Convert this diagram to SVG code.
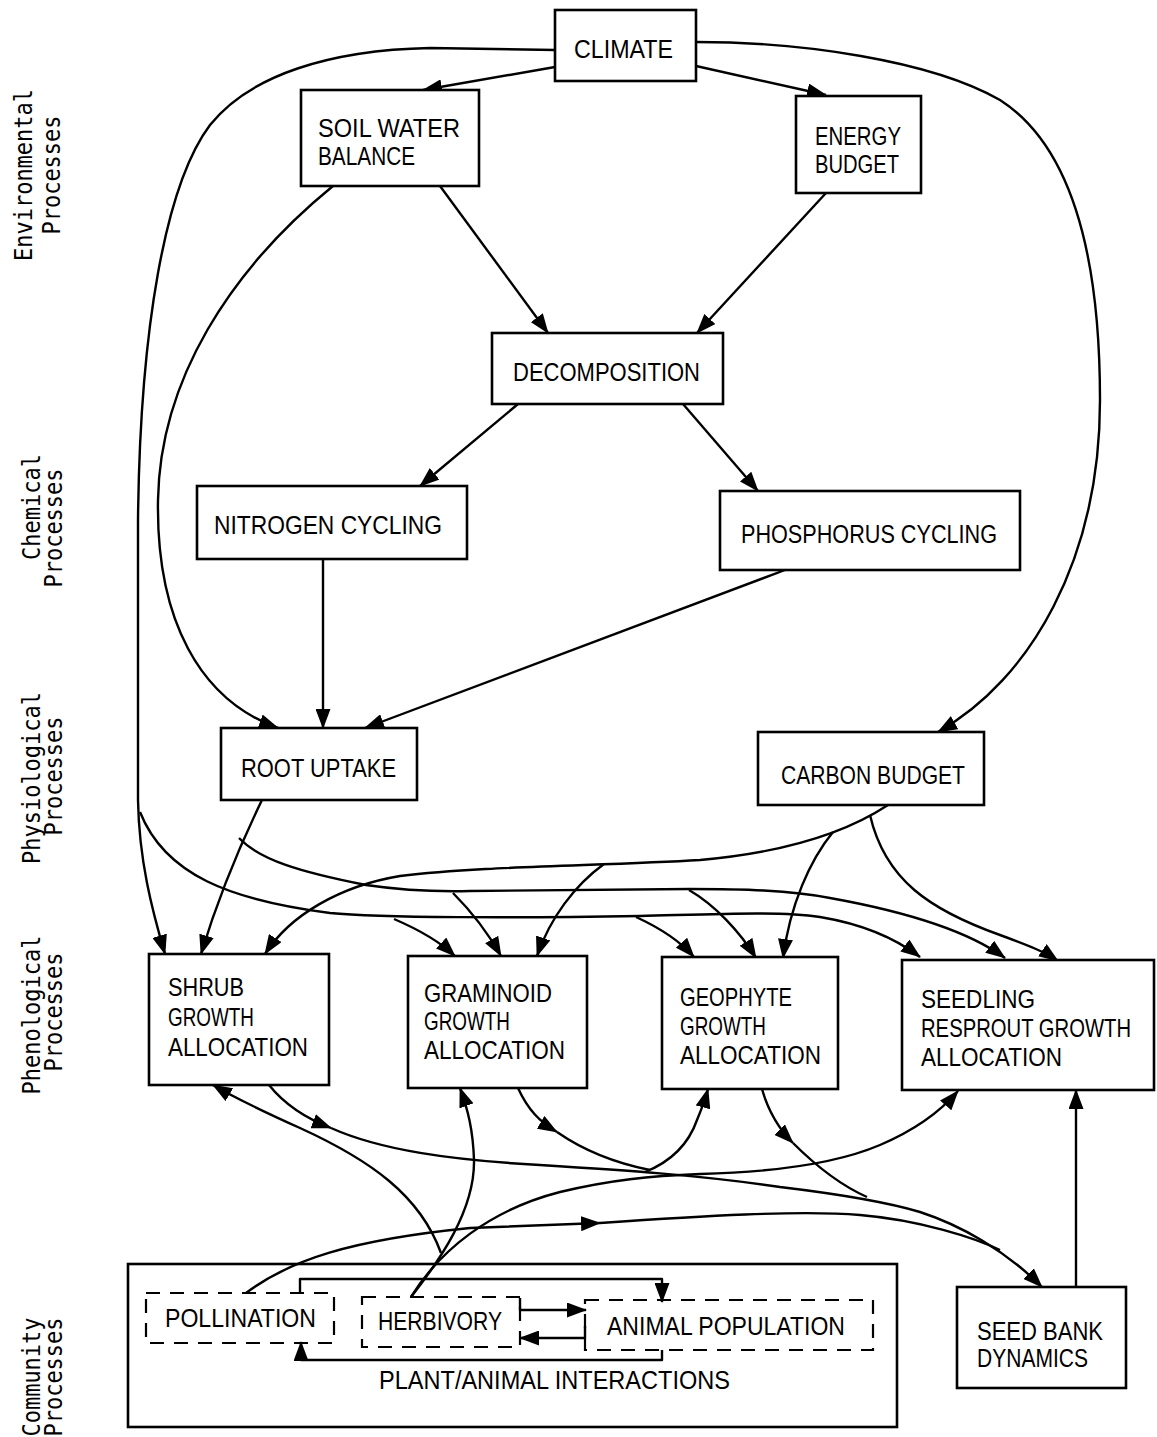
<svg xmlns="http://www.w3.org/2000/svg" width="1157" height="1437" viewBox="0 0 1157 1437">
  <style>
    .box { fill: #fff; stroke: #000; stroke-width: 2.6; }
    .frame { fill: none; stroke: #000; stroke-width: 2.6; }
    .dbox { fill: none; stroke: #000; stroke-width: 2.2; stroke-dasharray: 14 10; }
    .lbl { font-family: "Liberation Sans", Arial, sans-serif; font-size: 25px; fill: #000; }
    .side { font-family: "DejaVu Sans Mono", "Liberation Mono", monospace; font-size: 22px; fill: #000; }
    .ln { fill: none; stroke: #000; stroke-width: 2.4; stroke-linejoin: round; }
    .arr { marker-end: url(#ah); }
  </style>
  <defs>
    <marker id="ah" viewBox="0 0 20 15" refX="19" refY="7.5" markerWidth="20" markerHeight="15" markerUnits="userSpaceOnUse" orient="auto">
      <path d="M0,0 L20,7.5 L0,15 z" fill="#000"/>
    </marker>
  </defs>

  <rect width="1157" height="1437" fill="#fff"/>

  <!-- process level captions down the left margin -->
  <g id="levels">
    <text class="side" text-anchor="middle" transform="translate(32,175) rotate(-90) scale(1,1.15)">Environmental</text>
    <text class="side" text-anchor="middle" transform="translate(60,175) rotate(-90) scale(1,1.15)">Processes</text>
    <text class="side" text-anchor="middle" transform="translate(40,507) rotate(-90) scale(1,1.15)">Chemical</text>
    <text class="side" text-anchor="middle" transform="translate(62,528) rotate(-90) scale(1,1.15)">Processes</text>
    <text class="side" text-anchor="middle" transform="translate(40,778) rotate(-90) scale(1,1.15)">Physiological</text>
    <text class="side" text-anchor="middle" transform="translate(62,776) rotate(-90) scale(1,1.15)">Processes</text>
    <text class="side" text-anchor="middle" transform="translate(40,1015) rotate(-90) scale(1,1.15)">Phenological</text>
    <text class="side" text-anchor="middle" transform="translate(62,1012) rotate(-90) scale(1,1.15)">Processes</text>
    <text class="side" text-anchor="middle" transform="translate(40,1377) rotate(-90) scale(1,1.15)">Community</text>
    <text class="side" text-anchor="middle" transform="translate(62,1377) rotate(-90) scale(1,1.15)">Processes</text>
  </g>

  <!-- connectors -->
  <g id="connectors" class="ln">
    <!-- climate -->
    <path class="arr" d="M555,67 L423,90"/>
    <path class="arr" d="M696,66 L826,95"/>
    <path class="arr" d="M555,50 L430,48 C330,50 250,75 210,125 C165,185 140,330 138,520 L138,800 C139,860 152,910 165,954"/>
    <path class="arr" d="M140,812 C165,875 230,900 330,913 C380,918 520,918 640,916 C720,914 780,911 820,917 C862,924 895,938 920,957"/>
    <path class="arr" d="M394,919 C415,928 438,940 455,956"/>
    <path class="arr" d="M636,917 C660,928 680,941 694,957"/>
    <path class="arr" d="M696,42 C800,42 930,60 1000,100 C1070,145 1100,250 1100,400 C1100,560 1030,680 938,732"/>

    <!-- soil water, energy, decomposition -->
    <path class="arr" d="M440,186 L548,333"/>
    <path class="arr" d="M826,193 L697,333"/>
    <path class="arr" d="M518,404 L420,486"/>
    <path class="arr" d="M683,404 L758,491"/>
    <path class="arr" d="M333,186 C230,270 160,380 158,500 C156,620 200,700 278,728"/>

    <!-- nutrient cycling to root uptake -->
    <path class="arr" d="M323,559 L323,728"/>
    <path class="arr" d="M785,570 L365,728"/>

    <!-- root uptake to growth allocation -->
    <path class="arr" d="M262,800 C245,835 222,885 201,954"/>
    <path class="arr" d="M239,838 C260,860 300,872 366,885 C400,890 430,892 470,891 L690,889 C740,889 790,890 830,898 C880,907 960,925 1005,958"/>
    <path class="arr" d="M453,893 C470,910 488,933 501,956"/>
    <path class="arr" d="M689,890 C715,905 740,932 756,958"/>

    <!-- carbon budget to growth allocation -->
    <path class="arr" d="M888,805 C850,830 790,852 700,860 C600,866 480,866 400,876 C340,886 290,915 265,954"/>
    <path class="arr" d="M604,864 C575,885 550,918 537,956"/>
    <path class="arr" d="M833,832 C810,860 790,905 783,958"/>
    <path class="arr" d="M870,815 C885,880 930,910 1000,935 C1030,946 1045,952 1058,961"/>

    <!-- herbivory feedback to growth allocation -->
    <path class="arr" d="M411,1297 C440,1260 475,1210 474,1160 C473,1130 468,1110 460,1088"/>
    <path class="arr" d="M441,1253 C420,1195 370,1160 300,1128 C260,1110 235,1098 213,1085"/>
    <path class="arr" d="M411,1297 C440,1250 490,1210 560,1192 C610,1180 650,1176 700,1174 C780,1172 840,1162 880,1145 C915,1130 940,1112 958,1091"/>
    <path class="arr" d="M645,1172 C675,1160 690,1140 697,1120 C702,1108 705,1100 708,1089"/>

    <!-- seed production to seed bank -->
    <path class="arr" d="M269,1085 C285,1105 305,1118 331,1128"/>
    <path class="arr" d="M331,1128 C380,1150 450,1160 540,1165 C620,1170 700,1175 780,1187 C830,1193 880,1200 920,1212 C960,1225 1005,1250 1042,1287"/>
    <path class="arr" d="M518,1088 C528,1110 540,1122 557,1132"/>
    <path d="M557,1132 C580,1148 610,1162 650,1170"/>
    <path class="arr" d="M762,1089 C768,1110 778,1128 793,1143"/>
    <path d="M793,1143 C815,1165 840,1185 867,1197"/>
    <path class="arr" d="M246,1293 C290,1260 350,1240 470,1228 L600,1223"/>
    <path d="M600,1223 C700,1216 800,1210 860,1215 C920,1220 975,1238 1000,1250"/>

    <!-- seed bank to seedling -->
    <path class="arr" d="M1076,1287 L1076,1090"/>

    <!-- plant / animal interactions -->
    <path class="arr" d="M300,1293 V1279 H662 V1302"/>
    <path class="arr" d="M520,1298 V1310 H586"/>
    <path class="arr" d="M585,1326 V1338 H520"/>
    <path class="arr" d="M662,1350 V1360 H301 V1342"/>
  </g>

  <!-- nodes -->
  <g id="climate">
    <rect class="box" x="555" y="10" width="141" height="71"/>
    <text class="lbl" x="574" y="58" textLength="99" lengthAdjust="spacingAndGlyphs">CLIMATE</text>
  </g>
  <g id="soil-water-balance">
    <rect class="box" x="301" y="90" width="178" height="96"/>
    <text class="lbl" x="318" y="137" textLength="142" lengthAdjust="spacingAndGlyphs">SOIL WATER</text>
    <text class="lbl" x="318" y="165" textLength="97" lengthAdjust="spacingAndGlyphs">BALANCE</text>
  </g>
  <g id="energy-budget">
    <rect class="box" x="796" y="96" width="125" height="97"/>
    <text class="lbl" x="815" y="145" textLength="86" lengthAdjust="spacingAndGlyphs">ENERGY</text>
    <text class="lbl" x="815" y="173" textLength="84" lengthAdjust="spacingAndGlyphs">BUDGET</text>
  </g>
  <g id="decomposition">
    <rect class="box" x="492" y="333" width="231" height="71"/>
    <text class="lbl" x="513" y="381" textLength="187" lengthAdjust="spacingAndGlyphs">DECOMPOSITION</text>
  </g>
  <g id="nitrogen-cycling">
    <rect class="box" x="197" y="486" width="270" height="73"/>
    <text class="lbl" x="214" y="534" textLength="228" lengthAdjust="spacingAndGlyphs">NITROGEN CYCLING</text>
  </g>
  <g id="phosphorus-cycling">
    <rect class="box" x="720" y="491" width="300" height="79"/>
    <text class="lbl" x="741" y="543" textLength="256" lengthAdjust="spacingAndGlyphs">PHOSPHORUS CYCLING</text>
  </g>
  <g id="root-uptake">
    <rect class="box" x="221" y="728" width="196" height="72"/>
    <text class="lbl" x="241" y="777" textLength="155" lengthAdjust="spacingAndGlyphs">ROOT UPTAKE</text>
  </g>
  <g id="carbon-budget">
    <rect class="box" x="758" y="732" width="226" height="73"/>
    <text class="lbl" x="781" y="784" textLength="184" lengthAdjust="spacingAndGlyphs">CARBON BUDGET</text>
  </g>
  <g id="shrub">
    <rect class="box" x="149" y="954" width="180" height="131"/>
    <text class="lbl" x="168" y="996" textLength="76" lengthAdjust="spacingAndGlyphs">SHRUB</text>
    <text class="lbl" x="168" y="1026" textLength="86" lengthAdjust="spacingAndGlyphs">GROWTH</text>
    <text class="lbl" x="168" y="1056" textLength="140" lengthAdjust="spacingAndGlyphs">ALLOCATION</text>
  </g>
  <g id="graminoid">
    <rect class="box" x="408" y="956" width="179" height="132"/>
    <text class="lbl" x="424" y="1002" textLength="128" lengthAdjust="spacingAndGlyphs">GRAMINOID</text>
    <text class="lbl" x="424" y="1030" textLength="86" lengthAdjust="spacingAndGlyphs">GROWTH</text>
    <text class="lbl" x="424" y="1059" textLength="141" lengthAdjust="spacingAndGlyphs">ALLOCATION</text>
  </g>
  <g id="geophyte">
    <rect class="box" x="662" y="957" width="176" height="132"/>
    <text class="lbl" x="680" y="1006" textLength="112" lengthAdjust="spacingAndGlyphs">GEOPHYTE</text>
    <text class="lbl" x="680" y="1035" textLength="86" lengthAdjust="spacingAndGlyphs">GROWTH</text>
    <text class="lbl" x="680" y="1064" textLength="141" lengthAdjust="spacingAndGlyphs">ALLOCATION</text>
  </g>
  <g id="seedling">
    <rect class="box" x="902" y="960" width="252" height="130"/>
    <text class="lbl" x="921" y="1008" textLength="114" lengthAdjust="spacingAndGlyphs">SEEDLING</text>
    <text class="lbl" x="921" y="1037" font-size="22" textLength="210" lengthAdjust="spacingAndGlyphs">RESPROUT GROWTH</text>
    <text class="lbl" x="921" y="1066" textLength="141" lengthAdjust="spacingAndGlyphs">ALLOCATION</text>
  </g>
  <g id="seed-bank">
    <rect class="box" x="957" y="1287" width="169" height="101"/>
    <text class="lbl" x="977" y="1340" textLength="126" lengthAdjust="spacingAndGlyphs">SEED BANK</text>
    <text class="lbl" x="977" y="1367" textLength="111" lengthAdjust="spacingAndGlyphs">DYNAMICS</text>
  </g>
  <g id="plant-animal-interactions">
    <rect class="frame" x="128" y="1264" width="769" height="163"/>
    <text class="lbl" x="379" y="1389" textLength="351" lengthAdjust="spacingAndGlyphs">PLANT/ANIMAL INTERACTIONS</text>
  </g>
  <g id="pollination">
    <rect class="dbox" x="146" y="1293" width="188" height="50"/>
    <text class="lbl" x="165" y="1327" textLength="151" lengthAdjust="spacingAndGlyphs">POLLINATION</text>
  </g>
  <g id="herbivory">
    <rect class="dbox" x="362" y="1297" width="158" height="50"/>
    <text class="lbl" x="378" y="1330" textLength="124" lengthAdjust="spacingAndGlyphs">HERBIVORY</text>
  </g>
  <g id="animal-population">
    <rect class="dbox" x="585" y="1300" width="288" height="50"/>
    <text class="lbl" x="607" y="1335" textLength="238" lengthAdjust="spacingAndGlyphs">ANIMAL POPULATION</text>
  </g>
</svg>
